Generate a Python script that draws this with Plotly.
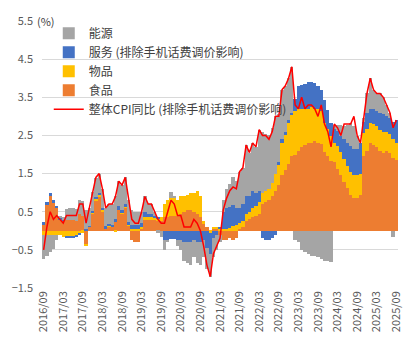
import plotly.graph_objects as go

# ---- data -----------------------------------------------------------------
months = []
y, m = 2016, 9
for _ in range(109):
    months.append(f"{y}/{m:02d}")
    m += 1
    if m > 12:
        m = 1
        y += 1

tick_labels = ["2016/09", "2017/03", "2017/09", "2018/03", "2018/09", "2019/03",
               "2019/09", "2020/03", "2020/09", "2021/03", "2021/09", "2022/03",
               "2022/09", "2023/03", "2023/09", "2024/03", "2024/09", "2025/03",
               "2025/09"]

food = [0.15, 0.70, 0.90, 0.75, 0.60, 0.30, 0.27, 0.27, 0.27, 0.27, 0.25, 0.45, 0.40,
        -0.35, 0.10, 0.45, 0.80, 0.90, 0.50, 0.05, 0.12, 0.10, 0.25, 0.55, 0.45, 0.60,
        0.15, -0.25, -0.30, -0.30, 0.05, 0.30, 0.30, 0.30, 0.30, 0.25, 0.25, 0.35, 0.35,
        0.40, 0.40, 0.40, 0.45, 0.50, 0.55, 0.55, 0.50, 0.45, 0.35, 0.20, 0.10, 0.00,
        0.05, 0.05, -0.10, -0.25, -0.25, -0.20, -0.25, -0.20, 0.05, 0.10, 0.25, 0.30,
        0.35, 0.40, 0.45, 0.70, 0.75, 0.80, 0.90, 1.05, 1.20, 1.45, 1.60, 1.75, 1.95,
        2.00, 2.10, 2.20, 2.25, 2.30, 2.30, 2.35, 2.30, 2.27, 2.06, 1.97, 1.84, 1.80,
        1.63, 1.46, 1.29, 1.11, 0.94, 0.86, 0.86, 0.94, 1.97, 2.10, 2.30, 2.25, 2.20,
        2.10, 2.05, 2.10, 2.05, 1.90, 1.85]

goods = [-0.10, -0.10, -0.10, -0.10, -0.10, -0.12, -0.15, -0.15, -0.15, -0.15, -0.12,
         -0.08, -0.05, -0.03, 0.00, 0.02, 0.03, 0.04, 0.05, 0.02, 0.03, 0.00, -0.03, 0.00,
         0.02, 0.02, 0.02, 0.05, 0.05, 0.05, 0.05, 0.05, 0.05, 0.05, 0.05, 0.08, 0.10,
         0.35, 0.45, 0.45, 0.45, 0.40, 0.45, 0.40, 0.40, 0.45, 0.50, 0.60, 0.55, 0.05,
         0.00, -0.05, 0.05, 0.05, 0.05, 0.05, 0.05, 0.08, 0.12, 0.15, 0.15, 0.15, 0.20,
         0.20, 0.25, 0.25, 0.30, 0.30, 0.30, 0.30, 0.35, 0.45, 0.55, 0.85, 0.90, 1.10,
         1.10, 1.15, 1.10, 1.00, 0.95, 0.90, 0.95, 0.85, 0.90, 0.86, 0.77, 0.69, 0.65,
         0.51, 0.60, 0.60, 0.60, 0.60, 0.60, 0.60, 0.60, 0.56, 0.60, 0.56, 0.53, 0.55,
         0.55, 0.55, 0.55, 0.50, 0.50, 0.50, 0.45]

services = [0.08, 0.05, 0.10, 0.05, 0.05, 0.04, 0.02, -0.03, -0.05, -0.05, -0.05, -0.02,
            0.00, 0.05, 0.03, 0.05, 0.06, 0.06, 0.05, 0.05, 0.04, 0.05, 0.05, 0.10, 0.08,
            0.08, 0.05, 0.10, 0.10, 0.10, 0.10, 0.15, 0.10, 0.10, 0.05, 0.02, 0.00, -0.25,
            -0.25, -0.22, -0.22, -0.25, -0.25, -0.30, -0.30, -0.30, -0.25, -0.30, -0.30,
            -0.25, -0.45, -0.55, -0.20, -0.10, 0.05, 0.45, 0.55, 0.55, 0.55, 0.45, 0.40,
            0.45, 0.45, 0.40, 0.45, 0.35, 0.30, -0.20, -0.25, -0.25, -0.20, -0.10, 0.05,
            0.10, 0.10, 0.05, 0.05, 0.30, 0.60, 0.62, 0.65, 0.70, 0.65, 0.68, 0.60, 0.55,
            0.60, 0.51, 0.34, 0.35, 0.38, 0.43, 0.51, 0.60, 0.69, 0.68, 0.68, 0.81, 0.28,
            0.44, 0.37, 0.40, 0.40, 0.45, 0.45, 0.40, 0.40, 0.45, 0.60]

energy = [-0.65, -0.55, -0.45, -0.37, -0.15, 0.06, 0.08, 0.30, 0.33, 0.33, 0.32, 0.37,
          0.38, 0.50, 0.48, 0.50, 0.50, 0.50, 0.50, 0.48, 0.50, 0.55, 0.60, 0.65, 0.65,
          0.70, 0.60, 0.40, 0.35, 0.35, 0.30, 0.40, 0.25, 0.25, 0.10, -0.05, -0.15,
          -0.25, -0.05, 0.17, 0.07, -0.15, -0.25, -0.50, -0.55, -0.60, -0.45, -0.55,
          -0.60, -0.45, -0.55, -0.60, -0.50, -0.40, -0.20, 0.30, 0.50, 0.60, 0.75, 0.70,
          0.95, 0.95, 1.35, 1.15, 1.25, 1.20, 1.60, 1.60, 1.50, 1.40, 1.45, 1.50, 1.25,
          1.30, 1.20, 1.10, 1.20, -0.25, -0.30, -0.50, -0.55, -0.60, -0.65, -0.65, -0.70,
          -0.75, -0.80, -0.80, -0.82, 0.12, 0.17, 0.29, 0.34, 0.47, 0.60, 0.60, 0.35,
          0.00, 0.10, 0.50, 0.80, 0.50, 0.45, 0.50, 0.45, 0.30, 0.15, -0.15, 0.00]

cpi = [-0.5, 0.1, 0.5, 0.3, 0.4, 0.3, 0.2, 0.4, 0.4, 0.4, 0.4, 0.7, 0.7, 0.2, 0.6, 1.0,
       1.4, 1.5, 1.1, 0.6, 0.7, 0.7, 0.9, 1.3, 1.2, 1.4, 0.8, 0.3, 0.2, 0.2, 0.5, 0.9,
       0.7, 0.7, 0.5, 0.3, 0.2, 0.2, 0.5, 0.8, 0.7, 0.4, 0.4, 0.1, 0.1, 0.1, 0.3, 0.2,
       0.0, -0.4, -0.9, -1.2, -0.6, -0.4, -0.2, 0.55, 0.85, 1.05, 1.15, 1.1, 1.55, 1.65,
       2.25, 2.05, 2.3, 2.2, 2.65, 2.5, 2.5, 2.4, 2.6, 3.0, 3.0, 3.7, 3.8, 4.0, 4.3, 3.3,
       3.2, 3.5, 3.2, 3.3, 3.3, 3.2, 3.0, 3.3, 2.8, 2.6, 2.2, 2.8, 2.7, 2.5, 2.8, 2.8,
       2.8, 3.0, 2.5, 2.3, 2.9, 3.6, 4.0, 3.7, 3.6, 3.6, 3.5, 3.3, 3.1, 2.7, 2.9]

names = ["能源", "服务 (排除手机话费调价影响)", "物品", "食品", "整体CPI同比 (排除手机话费调价影响)"]
colors = ["#A5A5A5", "#4472C4", "#FFC000", "#ED7D31", "#FF0000"]

# ---- figure -----------------------------------------------------------------
xi = list(range(len(months)))
fig = go.Figure()
stack = [(food, names[3], colors[3], 4), (goods, names[2], colors[2], 3),
         (services, names[1], colors[1], 2), (energy, names[0], colors[0], 1)]
for vals, nm, col, rank in stack:
    fig.add_trace(go.Bar(x=xi, y=vals, name=nm, marker=dict(color=col, line=dict(width=0)),
                         legendrank=rank, customdata=months))
fig.add_trace(go.Scatter(x=xi, y=cpi, name=names[4], mode="lines",
                         line=dict(color=colors[4], width=1.5), legendrank=5))

tickvals = [months.index(t) for t in tick_labels]
fig.update_layout(
    width=417, height=347,
    margin=dict(l=36, r=19, t=16, b=59),
    barmode="relative", bargap=0,
    plot_bgcolor="white", paper_bgcolor="white",
    font=dict(family="Noto Sans CJK SC", size=11, color="#595959"),
    showlegend=True,
    legend=dict(x=0.019, y=1.008, xanchor="left", yanchor="top",
                bgcolor="rgba(0,0,0,0)", font=dict(size=12, color="#404040"),
                tracegroupgap=0, itemwidth=30),
    xaxis=dict(range=[-0.5, 108.5], tickvals=tickvals, ticktext=tick_labels,
               tickangle=-90, showgrid=False, zeroline=False, showline=False,
               tickfont=dict(size=11, color="#595959")),
    yaxis=dict(range=[-1.5, 5.5], tick0=-1.5, dtick=1, tickformat=".1f",
               showgrid=True, gridcolor="#D9D9D9", gridwidth=1, zeroline=False,
               showline=False, tickfont=dict(size=11, color="#595959"),
               ticklabelstandoff=8),
    annotations=[dict(text="(%)", xref="paper", yref="paper", x=-0.02, y=1.0,
                      xanchor="left", yanchor="middle", showarrow=False,
                      font=dict(size=11, color="#404040"))],
)
fig.write_html("out.html")
